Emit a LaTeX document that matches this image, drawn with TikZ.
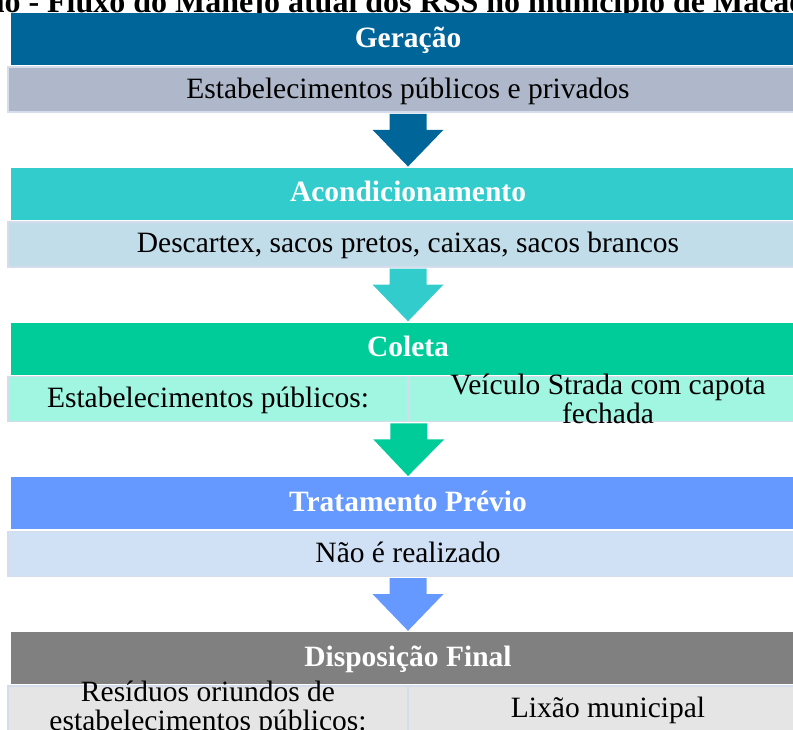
\documentclass[tikz,border=0pt]{standalone}
\usepackage{fontspec}
\setmainfont{Liberation Serif}
\usetikzlibrary{calc}
\definecolor{cgera}{HTML}{006699}
\definecolor{cacond}{HTML}{33CCCC}
\definecolor{ccoleta}{HTML}{00CC99}
\definecolor{ctrat}{HTML}{6699FF}
\definecolor{cdisp}{HTML}{808080}
\definecolor{sgera}{HTML}{AEB8CA}
\definecolor{sacond}{HTML}{C1DDEA}
\definecolor{scoleta}{HTML}{A1F6E1}
\definecolor{strat}{HTML}{D0E0F5}
\definecolor{sdisp}{HTML}{E5E5E5}
\definecolor{cline}{HTML}{D5DCEC}
\tikzset{
  every picture/.style={x=1pt, y=-1pt},
  head/.style={fill=#1, text=white, font=\bfseries\fontsize{29.5}{32}\selectfont, minimum width=794pt, minimum height=52pt, inner sep=0pt, text height=20pt, text depth=4pt},
  row/.style={fill=#1, draw=cline, line width=1.5pt, font=\fontsize{29.5}{29}\selectfont, minimum width=800pt, minimum height=45pt, inner sep=0pt, text height=21pt, text depth=4pt},
  cell/.style={row=#1, minimum width=400pt},
  txt/.style={font=\fontsize{29.5}{29}\selectfont, align=center, inner sep=0pt},
}
% block arrow from a row down to the next header
\newcommand{\flowarrow}[3]{%
  \fill[#3] ($(#1)+(-18.5,1)$) -- ($(#1)+(18.5,1)$) -- ($(#1)+(18.5,17)$) -- ($(#1)+(35.5,17)$)
    -- ($(#2)+(0,-1)$) -- ($(#1)+(-35.5,17)$) -- ($(#1)+(-18.5,17)$) -- cycle;}

\begin{document}
\begin{tikzpicture}
  \useasboundingbox (0,0) rectangle (793,729);
  \clip (0,0) rectangle (793,729);
  \node[font=\bfseries\fontsize{32}{34}\selectfont, anchor=base west, inner sep=0pt] (title) at (47,12) {\llap{ão - }Fluxo do Manejo atual dos RSS no município de Macaé};
  % headers
  \foreach \t/\c [count=\i] in {Geração/cgera, Acondicionamento/cacond, Coleta/ccoleta, Tratamento Prévio/ctrat, Disposição Final/cdisp}
    \node[head=\c] (h\i) at (408, {39+154.75*(\i-1)}) {\t};
  % rows
  \node[row=sgera] (s1) at (408, 89.5) {Estabelecimentos públicos e privados};
  \node[row=sacond] (s2) at (408, 244.25) {Descartex, sacos pretos, caixas, sacos brancos};
  \node[cell=scoleta] (s3a) at (208, 399) {Estabelecimentos públicos:};
  \node[cell=scoleta] (s3b) at (608, 399) {};
  \node[txt] (t3b) at (s3b) {Veículo Strada com capota\\fechada};
  \node[row=strat] (s4) at (408, 553.75) {Não é realizado};
  \node[cell=sdisp] (s5a) at (208, 708.5) {};
  \node[txt] (t5a) at (s5a) {Resíduos oriundos de\\estabelecimentos públicos:};
  \node[cell=sdisp] (s5b) at (608, 708.5) {Lixão municipal};
  % arrows
  \flowarrow{s1.south}{h2.north}{cgera}
  \flowarrow{s2.south}{h3.north}{cacond}
  \flowarrow{s3a.south east}{h4.north}{ccoleta}
  \flowarrow{s4.south}{h5.north}{ctrat}
\end{tikzpicture}
\end{document}
